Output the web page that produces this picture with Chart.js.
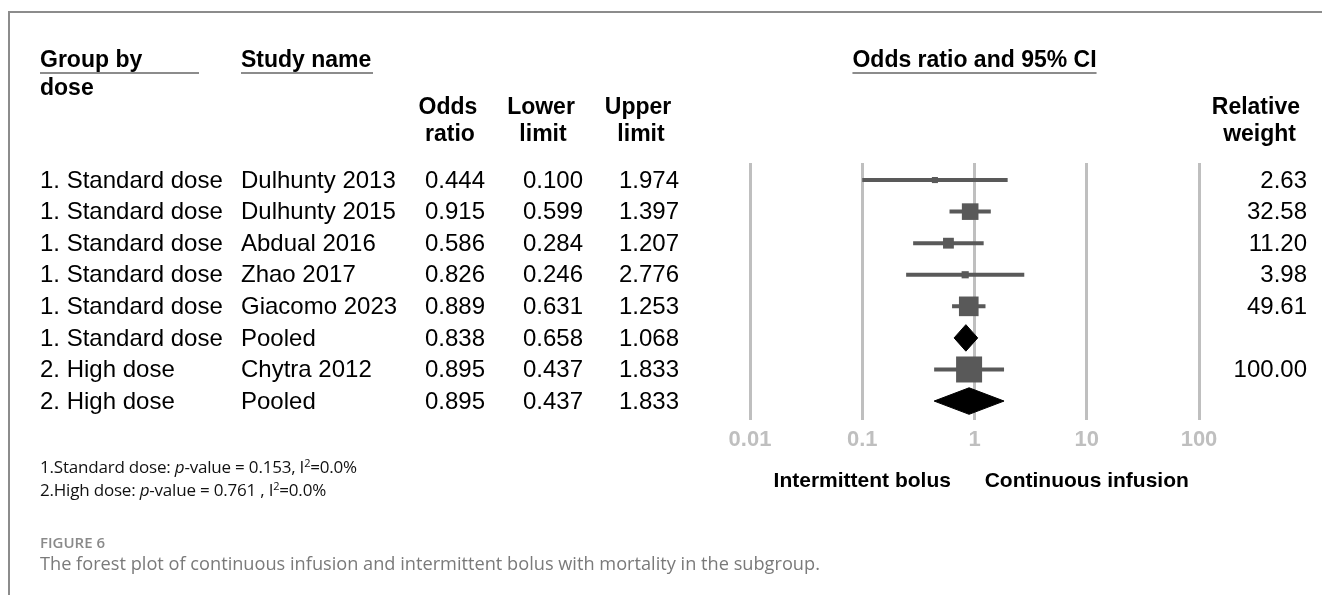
<!DOCTYPE html>
<html>
<head>
<meta charset="utf-8">
<title>Forest plot – continuous infusion vs intermittent bolus</title>
<script src="https://cdn.jsdelivr.net/npm/chart.js@4.4.1/dist/chart.umd.min.js"></script>
<style>
  html, body { margin: 0; padding: 0; background: #fff; }
  #wrap { position: relative; width: 1322px; height: 595px; overflow: hidden; }
  #frame { position: absolute; left: 8px; top: 11px; width: 1320px; height: 590px;
           border-top: 2px solid #8c8c8c; border-left: 2px solid #8c8c8c; }
  #chart { position: absolute; left: 0; top: 0; }
  .note { position: absolute; left: 40px; font-family: 'Open Sans', 'Noto Sans', sans-serif;
          font-size: 17px; letter-spacing: -0.2px; color: #111; white-space: nowrap; }
  .note sup { font-size: 11px; vertical-align: 6px; line-height: 0; }
  #figLabel { position: absolute; left: 40px; top: 532px; font-family: 'Open Sans', sans-serif;
              font-size: 15px; font-weight: 600; color: #8a8a8a; }
  #figText { position: absolute; left: 40px; top: 551px; font-family: 'Open Sans', sans-serif;
             font-size: 18.2px; color: #7a7a7a; white-space: nowrap; }
</style>
</head>
<body>
<div id="wrap">
  <div id="frame"></div>
  <canvas id="chart" width="1322" height="595"></canvas>
  <div class="note" style="top:455px">1.Standard dose: <i>p</i>-value = 0.153, I<sup>2</sup>=0.0%</div>
  <div class="note" style="top:478px">2.High dose: <i>p</i>-value = 0.761 , I<sup>2</sup>=0.0%</div>
  <div id="figLabel">FIGURE 6</div>
  <div id="figText">The forest plot of continuous infusion and intermittent bolus with mortality in the subgroup.</div>
</div>
<script>
// ---- study table ----
const groups = ['1. Standard dose', '1. Standard dose', '1. Standard dose', '1. Standard dose',
                '1. Standard dose', '1. Standard dose', '2. High dose', '2. High dose'];
const studies = ['Dulhunty 2013', 'Dulhunty 2015', 'Abdual 2016', 'Zhao 2017',
                 'Giacomo 2023', 'Pooled', 'Chytra 2012', 'Pooled'];
const oddsRatio  = [0.444, 0.915, 0.586, 0.826, 0.889, 0.838, 0.895, 0.895];
const lowerLimit = [0.100, 0.599, 0.284, 0.246, 0.631, 0.658, 0.437, 0.437];
const upperLimit = [1.974, 1.397, 1.207, 2.776, 1.253, 1.068, 1.833, 1.833];
const relWeight  = [2.63, 32.58, 11.20, 3.98, 49.61, null, 100.00, null];
const xTicks = [0.01, 0.1, 1, 10, 100];
const sideLabels = ['Intermittent bolus', 'Continuous infusion'];

const rowIndex = studies.map((_, i) => i);
const isPooled = i => studies[i] === 'Pooled';

// marker geometry
const MARK = '#595959';
const boxSide = w => 26 * Math.pow(w / 100, 0.4);
const DIAMOND_HALF = 0.42; // half-height of the pooled diamonds, in row units

const datasets = [];

// study boxes (first so they sit on top of the whiskers)
datasets.push({
  label: 'Study estimate',
  data: rowIndex.filter(i => !isPooled(i)).map(i => ({ x: oddsRatio[i], y: i, w: relWeight[i] })),
  pointStyle: 'rect',
  pointRadius: ctx => boxSide(ctx.raw.w) / Math.SQRT2,
  pointHoverRadius: ctx => boxSide(ctx.raw.w) / Math.SQRT2,
  backgroundColor: MARK,
  borderWidth: 0,
  showLine: false
});

// confidence-interval whiskers
rowIndex.filter(i => !isPooled(i)).forEach(i => {
  datasets.push({
    label: studies[i] + ' CI',
    data: [{ x: lowerLimit[i], y: i }, { x: upperLimit[i], y: i }],
    showLine: true,
    borderColor: MARK,
    borderWidth: 4,
    pointRadius: 0,
    fill: false
  });
});

// pooled diamonds
rowIndex.filter(i => isPooled(i)).forEach(i => {
  datasets.push({
    label: groups[i] + ' pooled',
    data: [
      { x: lowerLimit[i], y: i },
      { x: oddsRatio[i], y: i - DIAMOND_HALF },
      { x: upperLimit[i], y: i },
      { x: oddsRatio[i], y: i + DIAMOND_HALF },
      { x: lowerLimit[i], y: i }
    ],
    showLine: true,
    borderColor: '#000',
    borderWidth: 1,
    backgroundColor: '#000',
    pointRadius: 0,
    tension: 0,
    fill: 'shape'
  });
});

const FONT = '"Liberation Sans", Arial, sans-serif';

// table columns, headers and axis captions
const tablePlugin = {
  id: 'forestTable',
  afterDraw(chart) {
    const { ctx } = chart;
    const xs = chart.scales.x, ys = chart.scales.y;
    ctx.save();
    ctx.fillStyle = '#000';
    ctx.textBaseline = 'middle';

    const underline = (x1, x2, yy) => {
      ctx.save();
      ctx.strokeStyle = '#8c8c8c';
      ctx.lineWidth = 2;
      ctx.beginPath(); ctx.moveTo(x1, yy); ctx.lineTo(x2, yy); ctx.stroke();
      ctx.restore();
    };

    // headers
    ctx.font = 'bold 23px ' + FONT;
    ctx.textAlign = 'left';
    ctx.fillText('Group by', 40, 61);
    ctx.fillText('dose', 40, 89);
    ctx.fillText('Study name', 241, 61);
    underline(40, 199, 73);
    underline(241, 373, 73);

    ctx.textAlign = 'center';
    const cx = xs.getPixelForValue(1);
    ctx.fillText('Odds ratio and 95% CI', cx, 61);
    const w = ctx.measureText('Odds ratio and 95% CI').width;
    underline(cx - w / 2, cx + w / 2, 73);

    ctx.fillText('Odds', 448, 108); ctx.fillText('ratio', 450, 135);
    ctx.fillText('Lower', 541, 108); ctx.fillText('limit', 543, 135);
    ctx.fillText('Upper', 638, 108); ctx.fillText('limit', 641, 135);
    ctx.textAlign = 'right';
    ctx.fillText('Relative', 1300, 108);
    ctx.fillText('weight', 1296, 135);

    // rows
    ctx.font = '24px ' + FONT;
    rowIndex.forEach(i => {
      const py = ys.getPixelForValue(i) + 1;
      ctx.textAlign = 'left';
      ctx.fillText(groups[i], 40, py);
      ctx.fillText(studies[i], 241, py);
      ctx.textAlign = 'center';
      ctx.fillText(oddsRatio[i].toFixed(3), 455, py);
      ctx.fillText(lowerLimit[i].toFixed(3), 553, py);
      ctx.fillText(upperLimit[i].toFixed(3), 649, py);
      if (relWeight[i] !== null) {
        ctx.textAlign = 'right';
        ctx.fillText(relWeight[i].toFixed(2), 1307, py);
      }
    });

    // direction captions under the axis
    ctx.font = 'bold 21px ' + FONT;
    ctx.textAlign = 'center';
    ctx.fillText(sideLabels[0], xs.getPixelForValue(0.1), 481);
    ctx.fillText(sideLabels[1], xs.getPixelForValue(10), 481);
    ctx.restore();
  }
};

new Chart(document.getElementById('chart'), {
  type: 'scatter',
  data: { datasets },
  options: {
    responsive: false,
    animation: false,
    events: [],
    layout: { padding: { left: 750, right: 123, top: 163, bottom: 135 } },
    plugins: { legend: { display: false }, tooltip: { enabled: false } },
    scales: {
      x: {
        type: 'logarithmic',
        min: 0.01,
        max: 100,
        afterBuildTicks: axis => { axis.ticks = xTicks.map(v => ({ value: v })); },
        afterFit: axis => { axis.height = 40; },
        ticks: {
          callback: v => String(v),
          color: '#bfbfbf',
          font: { family: FONT, size: 22, weight: 'bold' },
          padding: 7,
          maxRotation: 0,
          autoSkip: false
        },
        grid: { color: '#bfbfbf', lineWidth: 3, drawTicks: false },
        border: { display: false }
      },
      y: {
        type: 'linear',
        min: -0.54,
        max: 7.6,
        reverse: true,
        display: false
      }
    }
  },
  plugins: [tablePlugin]
});
</script>
</body>
</html>
